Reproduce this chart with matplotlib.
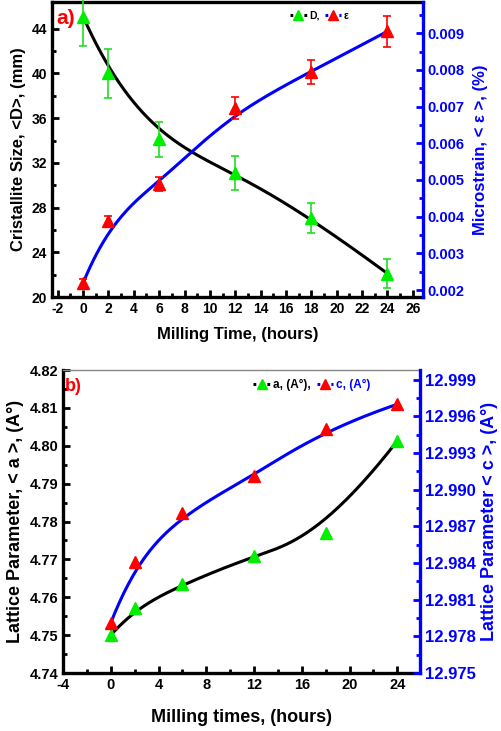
import numpy as np
import matplotlib.pyplot as plt
from matplotlib.lines import Line2D

plt.rcParams['font.family'] = ['Liberation Sans', 'DejaVu Sans']
plt.rcParams['font.weight'] = 'bold'
plt.rcParams['axes.unicode_minus'] = False

# panel a data
time_a = [0, 2, 6, 12, 18, 24]
size_D = [45.1, 40.0, 34.1, 31.1, 27.1, 22.1]
size_D_err = [2.6, 2.2, 1.6, 1.5, 1.35, 1.3]
strain = [0.00219, 0.00388, 0.00489, 0.00695, 0.00795, 0.00905]
strain_err = [0.0001, 0.00015, 0.0002, 0.0003, 0.00033, 0.00042]

# panel b data
time_b = [0, 2, 6, 12, 18, 24]
lat_a = [4.7500, 4.7571, 4.7634, 4.7710, 4.7770, 4.8013]
lat_c = [12.9791, 12.9841, 12.9881, 12.9911, 12.9950, 12.9970]


def bspline(x, y, n=200):
    # clamped cubic B-spline using the points as control points (Origin style)
    P = np.column_stack([x, y]).astype(float)
    k = 3
    m = len(P)
    inner = np.linspace(0, 1, m - k + 1)
    knots = np.concatenate([[0] * k, inner, [1] * k])
    t = np.linspace(0, 1, n)
    t[-1] = 1 - 1e-12

    def basis(i, d, tt):
        if d == 0:
            return ((knots[i] <= tt) & (tt < knots[i + 1])).astype(float)
        a = 0.0
        b = 0.0
        if knots[i + d] != knots[i]:
            a = (tt - knots[i]) / (knots[i + d] - knots[i]) * basis(i, d - 1, tt)
        if knots[i + d + 1] != knots[i + 1]:
            b = (knots[i + d + 1] - tt) / (knots[i + d + 1] - knots[i + 1]) * basis(i + 1, d - 1, tt)
        return a + b

    B = np.array([basis(i, k, t) for i in range(m)])
    C = B.T @ P
    return C[:, 0], C[:, 1]


# legend handle: small square, gap, marker, gap, small square (in points)
LW = 2.2
sq, gap, mid = 2.0, 2.6, 2.8
handle_len = 2 * sq + 2 * gap + mid
leg_dash = (0, (sq / LW, gap / LW, mid / LW, gap / LW))
leg_ms = 7.5

fig = plt.figure(figsize=(5.02, 7.31), dpi=100)
blue = '#0000ff'
green = '#00ee00'

# ---------- panel a ----------
ax1 = fig.add_axes([0.1036, 0.5937, 0.739, 0.4036])
ax2 = ax1.twinx()

sx, sy = bspline(time_a, size_D)
ax1.plot(sx, sy, color='black', lw=LW, zorder=2)
ax1.errorbar(time_a, size_D, yerr=size_D_err, fmt='^', color=green, ms=9,
             ecolor='#22dd22', elinewidth=1.2, capsize=3, capthick=1.2, zorder=3, clip_on=False)
ex, ey = bspline(time_a, strain)
ax2.plot(ex, ey, color=blue, lw=LW, zorder=2)
ax2.errorbar(time_a, strain, yerr=strain_err, fmt='^', color='#ff0000', ms=9,
             ecolor='#ff0000', elinewidth=1.2, capsize=3, capthick=1.2, zorder=3)

ax1.set_xlim(-2.45, 26.8)
ax1.set_ylim(20, 46.4)
ax2.set_ylim(0.00181, 0.00985)
ax1.set_xticks(np.arange(-2, 27, 2))
ax1.set_xticks(np.arange(-2, 27, 1), minor=True)
ax1.set_yticks(np.arange(20, 45, 4))
ax1.set_yticks(np.arange(20, 46, 2), minor=True)
ax2.set_yticks(np.arange(0.002, 0.0095, 0.001))
ax2.set_yticks(np.arange(0.002, 0.0098, 0.0005), minor=True)
ax2.yaxis.set_major_formatter(plt.FuncFormatter(lambda v, p: f'{v:.3f}'))

ax1.tick_params(axis='both', which='both', direction='in', width=2, labelsize=10)
ax1.tick_params(which='major', length=5)
ax1.tick_params(which='minor', length=3)
ax2.tick_params(axis='y', which='both', direction='in', colors=blue, width=2, labelsize=10.5)
ax2.tick_params(which='major', length=5)
ax2.tick_params(which='minor', length=3)
for s in ['left', 'bottom', 'top']:
    ax1.spines[s].set_linewidth(2.4)
ax2.spines['right'].set_color(blue)
ax2.spines['right'].set_linewidth(2.4)
for s in ['left', 'bottom', 'top']:
    ax2.spines[s].set_visible(False)

ax1.set_xlabel('Milling Time, (hours)', fontsize=12, fontweight='bold', labelpad=8)
ax1.set_ylabel('Cristallite Size, <D>, (mm)', fontsize=12, fontweight='bold', labelpad=4)
ax2.set_ylabel('Microstrain, < ε >, (%)', fontsize=12, fontweight='bold', color=blue, labelpad=6)
ax1.text(0.012, 0.975, 'a)', transform=ax1.transAxes, color='red', fontsize=15,
         fontweight='bold', va='top', ha='left')

h1 = Line2D([], [], color='black', ls=leg_dash, lw=LW, marker='^', mfc=green, mec=green, ms=leg_ms)
h2 = Line2D([], [], color=blue, ls=leg_dash, lw=LW, marker='^', mfc='red', mec='red', ms=leg_ms)
ax1.legend([h1, h2], ['D,', 'ε'], loc='upper left', bbox_to_anchor=(0.63, 0.985), ncol=2,
           frameon=False, fontsize=7.5, handlelength=handle_len / 7.5, handletextpad=0.25,
           columnspacing=0.5, borderaxespad=0, numpoints=1)

# ---------- panel b ----------
ax3 = fig.add_axes([0.1255, 0.0793, 0.7112, 0.4145])
ax4 = ax3.twinx()

ax_, ay_ = bspline(time_b, lat_a)
ax3.plot(ax_, ay_, color='black', lw=LW, zorder=2)
ax3.plot(time_b, lat_a, '^', color=green, ms=9, zorder=3)
cx, cy = bspline(time_b, lat_c)
ax4.plot(cx, cy, color=blue, lw=LW, zorder=2)
ax4.plot(time_b, lat_c, '^', color='#ff0000', ms=9, zorder=3)

ax3.set_xlim(-4, 25.9)
ax3.set_ylim(4.74, 4.82)
ax4.set_ylim(12.975, 12.9998)
ax3.set_xticks(np.arange(-4, 25, 4))
ax3.set_xticks(np.arange(-4, 26, 2), minor=True)
ax3.set_yticks(np.arange(4.74, 4.8201, 0.01))
ax3.set_yticks(np.arange(4.74, 4.8201, 0.005), minor=True)
ax3.yaxis.set_major_formatter(plt.FuncFormatter(lambda v, p: f'{v:.2f}'))
ax4.set_yticks(np.arange(12.975, 12.9995, 0.003))
ax4.set_yticks(np.arange(12.975, 12.9998, 0.0015), minor=True)
ax4.yaxis.set_major_formatter(plt.FuncFormatter(lambda v, p: f'{v:.3f}'))

ax3.tick_params(axis='both', which='both', direction='in', width=2, labelsize=10.5)
ax3.tick_params(which='major', length=5)
ax3.tick_params(which='minor', length=3)
ax4.tick_params(axis='y', which='both', direction='in', colors=blue, width=2, labelsize=12)
ax4.tick_params(which='major', length=5)
ax4.tick_params(which='minor', length=3)
for s in ['left', 'bottom']:
    ax3.spines[s].set_linewidth(2.4)
ax3.spines['top'].set_color('#888888')
ax3.spines['top'].set_linewidth(1)
ax4.spines['right'].set_color(blue)
ax4.spines['right'].set_linewidth(2.4)
for s in ['left', 'bottom', 'top']:
    ax4.spines[s].set_visible(False)

ax3.set_xlabel('Milling times, (hours)', fontsize=13, fontweight='bold', labelpad=12)
ax3.set_ylabel('Lattice Parameter, < a >, (A°)', fontsize=13, fontweight='bold', labelpad=4)
ax4.set_ylabel('Lattice Parameter < c >, (A°)', fontsize=13, fontweight='bold', color=blue,
               labelpad=4)
ax3.text(0.005, 0.975, 'b)', transform=ax3.transAxes, color='red', fontsize=13,
         fontweight='bold', va='top', ha='left')

h3 = Line2D([], [], color='black', ls=leg_dash, lw=LW, marker='^', mfc=green, mec=green, ms=leg_ms)
h4 = Line2D([], [], color=blue, ls=leg_dash, lw=LW, marker='^', mfc='red', mec='red', ms=leg_ms)
leg = ax3.legend([h3, h4], ['a, (A°),', 'c, (A°)'], loc='upper left',
                 bbox_to_anchor=(0.52, 0.985), ncol=2, frameon=False, fontsize=8.5,
                 handlelength=handle_len / 8.5, handletextpad=0.25, columnspacing=0.5,
                 borderaxespad=0, numpoints=1)
leg.get_texts()[1].set_color(blue)

fig.savefig('out.png', dpi=100)
